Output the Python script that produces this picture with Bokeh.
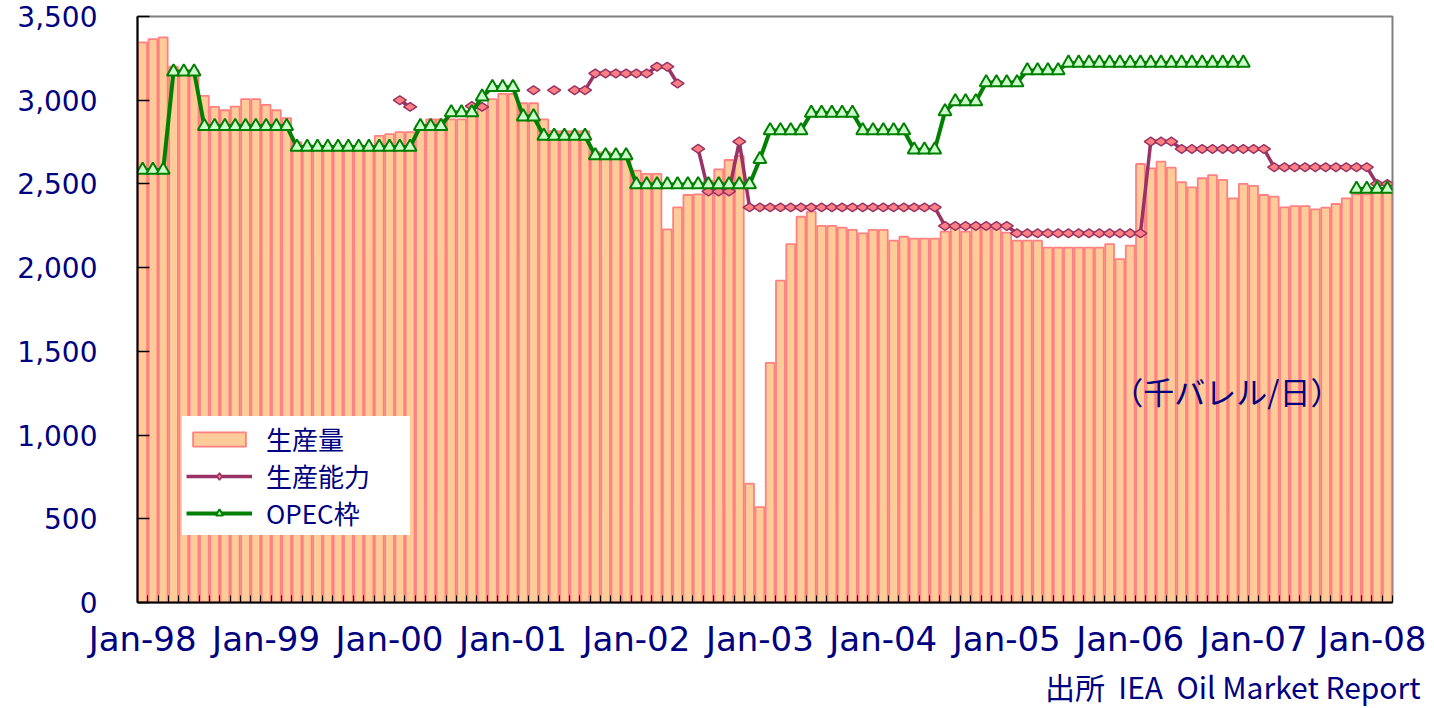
import numpy as np
from bokeh.plotting import figure
from bokeh.models import (Range1d, FixedTicker, NumeralTickFormatter, Legend, LegendItem,
                          Label, Title, ColumnDataSource)
from bokeh.embed import file_html
from bokeh.resources import INLINE

# ---- data (thousand barrels/day), monthly Jan-98 .. Feb-08 ----
tick_labels = ["Jan-98", "Jan-99", "Jan-00", "Jan-01", "Jan-02", "Jan-03",
               "Jan-04", "Jan-05", "Jan-06", "Jan-07", "Jan-08"]

production = [
    3345, 3365, 3375, 3200, 3180, 3180, 3026, 2960, 2940, 2962, 3006, 3006,
    2972, 2940, 2893, 2750, 2730, 2720, 2720, 2715, 2715, 2720, 2720, 2787,
    2797, 2810, 2810, 2852, 2886, 2886, 2886, 2886, 2910, 2960, 3006, 3038,
    3038, 2982, 2982, 2886, 2815, 2815, 2815, 2815, 2690, 2690, 2680, 2680,
    2580, 2560, 2560, 2229, 2360, 2434, 2438, 2520, 2587, 2643, 2667, 710,
    570, 1431, 1922, 2141, 2304, 2334, 2249, 2249, 2239, 2225, 2205, 2225,
    2225, 2161, 2185, 2173, 2173, 2173, 2215, 2240, 2215, 2245, 2235, 2230,
    2209, 2161, 2161, 2161, 2119, 2119, 2119, 2119, 2119, 2119, 2141, 2051,
    2131, 2619, 2593, 2633, 2597, 2510, 2480, 2534, 2553, 2524, 2414, 2500,
    2488, 2434, 2424, 2360, 2368, 2368, 2348, 2358, 2380, 2414, 2438, 2438,
    2450, 2450,
]

capacity = [
    None, None, None, None, None, None, None, None, None, None, None, None,
    None, None, None, None, None, None, None, None, None, None, None, None,
    None, 3000, 2960, None, None, None, None, None, 2965, 2960, None, None,
    None, None, 3060, None, 3060, None, 3060, 3060, 3160, 3160, 3160, 3160,
    3160, 3160, 3200, 3200, 3100, None, 2710, 2455, 2455, 2455, 2753, 2360,
    2360, 2360, 2360, 2360, 2360, 2360, 2360, 2360, 2360, 2360, 2360, 2360,
    2360, 2360, 2360, 2360, 2360, 2360, 2249, 2249, 2249, 2249, 2249, 2249,
    2249, 2205, 2205, 2205, 2205, 2205, 2205, 2205, 2205, 2205, 2205, 2205,
    2205, 2205, 2753, 2753, 2753, 2709, 2709, 2709, 2709, 2709, 2709, 2709,
    2709, 2709, 2600, 2600, 2600, 2600, 2600, 2600, 2600, 2600, 2600, 2600,
    2500, 2500,
]

opec_quota = [
    2583, 2583, 2583, 3170, 3170, 3170, 2845, 2845, 2845, 2845, 2845, 2845,
    2845, 2845, 2845, 2720, 2720, 2720, 2720, 2720, 2720, 2720, 2720, 2720,
    2720, 2720, 2720, 2845, 2845, 2845, 2926, 2926, 2926, 3020, 3077, 3077,
    3077, 2902, 2902, 2786, 2786, 2786, 2786, 2786, 2670, 2670, 2670, 2670,
    2497, 2497, 2497, 2497, 2497, 2497, 2497, 2497, 2497, 2497, 2497, 2497,
    2647, 2819, 2819, 2819, 2819, 2923, 2923, 2923, 2923, 2923, 2819, 2819,
    2819, 2819, 2819, 2704, 2704, 2704, 2932, 2992, 2992, 2992, 3106, 3106,
    3106, 3106, 3178, 3178, 3178, 3178, 3223, 3223, 3223, 3223, 3223, 3223,
    3223, 3223, 3223, 3223, 3223, 3223, 3223, 3223, 3223, 3223, 3223, 3223,
    None, None, None, None, None, None, None, None, None, None, 2470, 2470,
    2470, 2470,
]

series_names = ["生産量", "生産能力", "OPEC枠"]
unit_note = "（千バレル/日）"
source_note = "出所\u00a0\u00a0IEA\u00a0\u00a0Oil\u00a0Market\u00a0Report"

# ---- build ----
n = len(production)
idx = np.arange(n)
src = ColumnDataSource(dict(
    x=idx,
    prod=np.array(production, dtype=float),
    cap=np.array([np.nan if v is None else v for v in capacity], dtype=float),
    opec=np.array([np.nan if v is None else v for v in opec_quota], dtype=float),
))

NAVY = "#000080"
CJK = "Noto Sans CJK JP"
NUM = "DejaVu Sans"

p = figure(frame_width=1255, frame_height=586, output_backend="svg", toolbar_location=None,
           x_range=Range1d(-0.5, n - 0.5), y_range=Range1d(0, 3500),
           min_border_left=137, min_border_right=34, min_border_top=16,
           min_border_bottom=0, background_fill_color="white",
           border_fill_color="white")

p.xgrid.visible = False
p.ygrid.visible = False
p.outline_line_color = "#808080"
p.outline_line_width = 2

bars = p.vbar(x="x", top="prod", width=0.86, source=src,
              fill_color="#FFCC99", line_color="#FF8080", line_width=1.8)

cap_line = p.line("x", "cap", source=src, line_color="#993366", line_width=3.5)
cap_pts = p.scatter("x", "cap", source=src, marker="diamond", size=13, angle=np.pi / 2,
                    fill_color="#FF8080", line_color="#993366", line_width=1.5)

op_line = p.line("x", "opec", source=src, line_color="#008000", line_width=4)
op_pts = p.scatter("x", "opec", source=src, marker="triangle", size=13,
                   fill_color="#CCFFCC", line_color="#008000", line_width=2)

# y axis
p.yaxis.ticker = FixedTicker(ticks=list(range(0, 3501, 500)))
p.yaxis.formatter = NumeralTickFormatter(format="0,0")
p.yaxis.major_tick_in = 12
p.yaxis.major_tick_out = 0
p.yaxis.minor_tick_in = 0
p.yaxis.minor_tick_out = 0
p.yaxis.axis_line_color = "black"
p.yaxis.axis_line_width = 2
p.yaxis.major_tick_line_color = "black"
p.yaxis.major_tick_line_width = 1.5
p.yaxis.major_label_standoff = 40
p.yaxis.major_label_text_font = NUM
p.yaxis.major_label_text_font_size = "28px"
p.yaxis.major_label_text_color = NAVY

# x axis: label every January, small ticks between categories
label_pos = [i * 12 for i in range(len(tick_labels))]
p.xaxis.ticker = FixedTicker(ticks=label_pos, minor_ticks=[i - 0.5 for i in range(n + 1)])
p.xaxis.major_label_overrides = {pos: lab for pos, lab in zip(label_pos, tick_labels)}
p.xaxis.major_tick_in = 0
p.xaxis.major_tick_out = 0
p.xaxis.minor_tick_in = 7
p.xaxis.minor_tick_out = 0
p.xaxis.minor_tick_line_color = "black"
p.xaxis.axis_line_color = "black"
p.xaxis.axis_line_width = 2
p.xaxis.major_label_standoff = 16
p.xaxis.major_label_text_font = NUM
p.xaxis.major_label_text_font_size = "34px"
p.xaxis.major_label_text_color = NAVY

legend = Legend(items=[
    LegendItem(label=series_names[0], renderers=[bars]),
    LegendItem(label=series_names[1], renderers=[cap_line, cap_pts]),
    LegendItem(label=series_names[2], renderers=[op_line, op_pts]),
], location=(45, 67))
legend.background_fill_color = "white"
legend.background_fill_alpha = 1
legend.border_line_alpha = 0
legend.padding = 4
legend.spacing = 0
legend.margin = 0
legend.label_height = 26
legend.glyph_height = 18
legend.glyph_width = 66
legend.label_standoff = 14
legend.label_width = 140
legend.label_text_font = CJK
legend.label_text_font_size = "26px"
legend.label_text_color = NAVY
p.add_layout(legend, "center")

p.add_layout(Label(x=105.4, y=1268, text=unit_note, text_align="center",
                   text_baseline="middle", text_font=CJK, text_font_size="31px",
                   text_color=NAVY))

src_title = Title(text=source_note, align="right", text_font=CJK,
                  text_font_size="30px", text_color=NAVY, text_font_style="normal",
                  offset=-28, standoff=0)
p.add_layout(src_title, "below")

open("out.html", "w").write(file_html(p, INLINE))
